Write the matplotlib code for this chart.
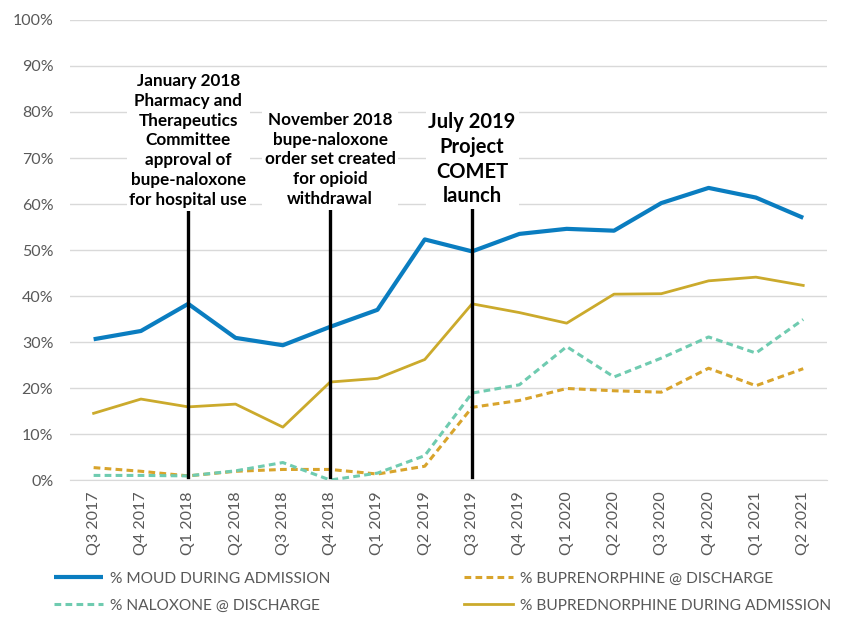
import matplotlib
matplotlib.use("Agg")
import matplotlib.pyplot as plt
from matplotlib.ticker import PercentFormatter

plt.rcParams['font.family'] = ['Lato', 'DejaVu Sans']

# quarters on the x axis
quarters = ['Q3 2017', 'Q4 2017', 'Q1 2018', 'Q2 2018', 'Q3 2018', 'Q4 2018',
            'Q1 2019', 'Q2 2019', 'Q3 2019', 'Q4 2019', 'Q1 2020', 'Q2 2020',
            'Q3 2020', 'Q4 2020', 'Q1 2021', 'Q2 2021']

# series values (%)
moud_admission = [30.6, 32.4, 38.3, 30.9, 29.3, 33.3, 37.0, 52.3,
                  49.7, 53.5, 54.6, 54.2, 60.2, 63.5, 61.4, 57.0]
bupe_discharge = [2.7, 1.9, 0.9, 1.9, 2.3, 2.3, 1.3, 3.0,
                  15.8, 17.3, 19.9, 19.4, 19.1, 24.3, 20.5, 24.2]
naloxone_discharge = [1.0, 1.0, 0.9, 2.0, 3.8, 0.0, 1.5, 5.3,
                      18.9, 20.7, 29.0, 22.4, 26.5, 31.1, 27.6, 34.9]
bupe_admission = [14.5, 17.6, 15.9, 16.5, 11.5, 21.3, 22.1, 26.2,
                  38.3, 36.4, 34.1, 40.4, 40.5, 43.3, 44.1, 42.3]

# milestone markers: quarter index, label, line top (%), font size
events = [
    (2, 'January 2018\nPharmacy and\nTherapeutics\nCommittee\napproval of\nbupe-naloxone\nfor hospital use', 58.3, 12.3),
    (5, 'November 2018\nbupe-naloxone\norder set created\nfor opioid\nwithdrawal', 58.5, 12.3),
    (8, 'July 2019\nProject\nCOMET\nlaunch', 58.7, 14.5),
]

BLUE = '#0A7DC0'
GOLD = '#CBAA2C'
ORANGE = '#D8A42C'
TEAL = '#6FCBB0'
GRAY = '#595959'

fig = plt.figure(figsize=(8.41, 6.17), dpi=100)
ax = fig.add_axes([0.0832, 0.222, 0.9, 0.7456])

x = list(range(len(quarters)))

l_moud, = ax.plot(x, moud_admission, color=BLUE, lw=3.0, solid_capstyle='butt',
                  label='% MOUD DURING ADMISSION', zorder=4)
l_bdis, = ax.plot(x, bupe_discharge, color=ORANGE, lw=2.2, ls=(0, (2.2, 1.4)),
                  label='% BUPRENORPHINE @ DISCHARGE', zorder=3)
l_nal, = ax.plot(x, naloxone_discharge, color=TEAL, lw=2.2, ls=(0, (2.2, 1.4)),
                 label='% NALOXONE @ DISCHARGE', zorder=3)
l_badm, = ax.plot(x, bupe_admission, color=GOLD, lw=2.0,
                  label='% BUPREDNORPHINE DURING ADMISSION', zorder=3)

# milestone lines and labels
for qi, text, top, fs in events:
    ax.plot([qi, qi], [0.7, top], color='black', lw=2.4, zorder=5)
    ax.text(qi, top + 0.8, text, ha='center', va='bottom', fontsize=fs,
            fontweight='bold', color='black', linespacing=1.3, zorder=6,
            bbox=dict(facecolor='white', edgecolor='none', pad=2))

ax.set_xlim(-0.5, len(quarters) - 0.5)
ax.set_ylim(0, 100)
ax.set_yticks(range(0, 101, 10))
ax.yaxis.set_major_formatter(PercentFormatter(decimals=0))
ax.set_xticks(x)
ax.set_xticklabels(quarters, rotation=90)
ax.tick_params(axis='both', length=0, labelsize=11.5, colors=GRAY)
ax.tick_params(axis='y', pad=12)
ax.tick_params(axis='x', pad=8)

ax.grid(axis='y', color='#D9D9D9', lw=1.0, zorder=0)
ax.set_axisbelow(True)
for s in ['top', 'right', 'left']:
    ax.spines[s].set_visible(False)
ax.spines['bottom'].set_color('#D9D9D9')

# legend: two columns (filled column by column), below plot
handles = [l_moud, l_nal, l_bdis, l_badm]
labels = [h.get_label() for h in handles]
leg = fig.legend(handles, labels, ncol=2, loc='lower left',
                 bbox_to_anchor=(0.047, -0.016), frameon=False, fontsize=11.2,
                 handlelength=3.2, handletextpad=0.4, columnspacing=8.6,
                 labelspacing=0.85)
for t in leg.get_texts():
    t.set_color(GRAY)

fig.savefig('out.png', dpi=100)
